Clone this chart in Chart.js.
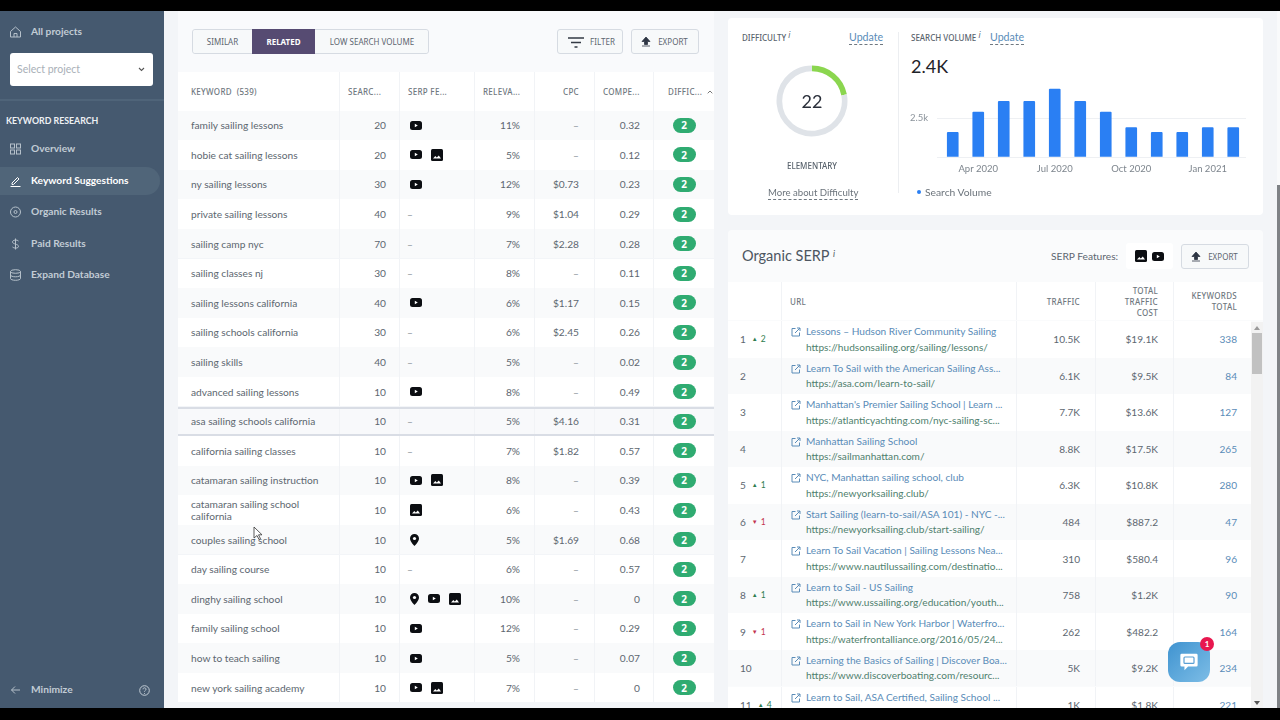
<!DOCTYPE html>
<html>
<head>
<meta charset="utf-8">
<title>Keyword Suggestions</title>
<script src="https://cdn.jsdelivr.net/npm/chart.js@4"></script>
<style>
* { box-sizing: border-box; }
html, body { margin: 0; padding: 0; width: 1280px; height: 720px; overflow: hidden; background: #000; }
body { font-family: Lato, sans-serif; color: #4a5560; }
.abs { position: absolute; white-space: nowrap; }
#page { position: absolute; left: 0; top: 11px; width: 1280px; height: 697px; background: #f3f5f8; overflow: hidden; }
#stage { position: absolute; left: 0; top: -11px; width: 1280px; height: 720px; }

/* sidebar */
#side { position: absolute; left: 0; top: 0; width: 164px; height: 720px; background: #45596f; }
.nav { position: absolute; left: 31px; font-size: 10.2px; font-weight: 700; color: #c2ccd5; transform: translateY(-50%); white-space: nowrap; margin-top: -1px; }
.nav.on { color: #fff; font-weight: 700; }
.ico { position: absolute; left: 9px; width: 13px; height: 13px; transform: translateY(-50%); }
#navOn { position: absolute; left: 0; top: 167px; width: 160px; height: 28px; background: #506579; border-radius: 0 14px 14px 0; }
#select { position: absolute; left: 10px; top: 53px; width: 143px; height: 33px; background: #fff; border-radius: 3px; font-size: 10.5px; color: #a9b0b7; padding: 10px 7px; }
#sideRule { position: absolute; left: 0; top: 99px; width: 164px; height: 2px; background: #4f6479; }

/* left table */
#leftTop { position: absolute; left: 178px; top: 11px; width: 536px; height: 61px; background: #f9fafc; }
#leftHead, #leftBody { position: absolute; left: 178px; width: 536px; }
#leftHead { top: 72px; height: 39px; background: #fff; }
#leftBody { top: 110.5px; }
.row { position: absolute; left: 0; right: 0; font-size: 10.2px; color: #5d6770; background: #fff; }
.row.alt { background: #f9fafb; }
.row.picked { background: #f8f9fb; border-top: 2px solid #d9dde5; border-bottom: 2px solid #d9dde5; }
.cell { position: absolute; top: 0; bottom: 0; display: flex; align-items: center; border-left: 1px solid #f1f3f6; }
.cell.first { border-left: 0; }
.cell.r { justify-content: flex-end; }
.hd { font-family: "Noto Sans", sans-serif; font-size: 8px; font-weight: 500; letter-spacing: .3px; color: #6f7880; }
.pill { width: 23px; height: 15px; border-radius: 8px; background: #2fab71; color: #fff; font-family: "Noto Sans", sans-serif; font-weight: 700; font-size: 10px; display: flex; align-items: center; justify-content: center; }
.feat { display: flex; gap: 9px; margin-left: 10px; align-items: center; }
.dash { color: #8a929a; }

/* tabs and buttons */
.btn { position: absolute; border: 1px solid #d6dbe2; border-radius: 3px; background: #f7f9fa; font-family: "Noto Sans", sans-serif; font-size: 8px; color: #5d6670; display: flex; align-items: center; justify-content: center; }
#tabOn { background: #564b72; color: #fff; font-weight: 700; border-color: #564b72; border-radius: 0; }

/* right cards */
#cardTop { position: absolute; left: 728px; top: 18px; width: 535px; height: 197px; background: #fff; border-radius: 4px; }
#cardSerp { position: absolute; left: 728px; top: 230px; width: 535px; height: 478px; background: #fafbfc; border-radius: 4px 4px 0 0; }
#serpHead { position: absolute; left: 728px; top: 282px; width: 535px; height: 38px; background: #fff; }
#serpBody { position: absolute; left: 728px; top: 321px; width: 523px; height: 387px; overflow: hidden; }
#serpBody .row { font-size: 10.1px; }
.link { color: #5a8cb8; }
.url { color: #4f7f6e; }
.up { color: #2f7d4f; font-size: 8.5px; }
.down { color: #c2334d; font-size: 8.5px; }
.tri { font-size: 6px; margin-right: 3px; position: relative; top: -1px; }
.dashed { border-bottom: 1px dashed #6f7880; padding-bottom: 1px; }
#sb { position: absolute; left: 1251px; top: 322px; width: 12px; height: 386px; background: #f2f2f2; }
#sbThumb { position: absolute; left: 1px; top: 11px; width: 10px; height: 41px; background: #c1c1c1; }
#pageSb { position: absolute; left: 1277px; top: 11px; width: 3px; height: 697px; background: #f9fafb; }
#pageThumb { position: absolute; left: 0; top: 174px; width: 3px; height: 523px; background: #7f8286; }

#chat { position: absolute; left: 1168px; top: 642px; width: 42px; height: 40px; border-radius: 12px; background: linear-gradient(135deg, #3f93d0, #7dbde6); }
#badge { position: absolute; left: 1200px; top: 637px; width: 14px; height: 14px; border-radius: 7px; background: #e8174f; color: #fff; font-size: 8px; font-weight: 700; display: flex; align-items: center; justify-content: center; }
#blackTop, #blackBottom { position: absolute; left: 0; width: 1280px; background: #000; }
#blackTop { top: 0; height: 11px; }
#blackBottom { top: 708px; height: 12px; }
#ring { position: absolute; left: 772px; top: 61px; }
#bars { position: absolute; left: 900px; top: 65px; }
</style>
</head>
<body>
<div id="page"><div id="stage">

  <div id="side">
    <div id="navOn"></div>
    <div id="select">Select project<svg class="abs" style="left:128px;top:14px" width="7" height="5" viewBox="0 0 7 5"><path d="M1 1l2.500 2.500L6 1" fill="none" stroke="#555" stroke-width="1.100"/></svg></div>
    <div id="sideRule"></div>
    <div id="navList"></div>
  </div>

  <div id="leftTop"></div>
  <div class="btn" style="left:192px;top:29px;width:237px;height:25px"></div>
  <div class="btn" style="left:193px;top:30px;width:59px;height:23px;border:0">SIMILAR</div>
  <div class="btn" id="tabOn" style="left:252px;top:29px;width:63px;height:25px">RELATED</div>
  <div class="btn" style="left:316px;top:30px;width:112px;height:23px;border:0">LOW SEARCH VOLUME</div>
  <div class="btn" style="left:557px;top:29px;width:66px;height:25px;padding-left:25px">FILTER
    <svg class="abs" style="left:10px;top:7px" width="16" height="11" viewBox="0 0 16 11"><path d="M0 1h16M3 5.500h10M6.500 10h3" stroke="#333a44" stroke-width="1.400"/></svg></div>
  <div class="btn" style="left:631px;top:29px;width:68px;height:25px;padding-left:16px">EXPORT
    <svg class="abs" style="left:9px;top:7px" width="10" height="10" viewBox="0 0 10 10"><path d="M5 0L9 4.500H6.500V7.500H3.500V4.500H1zM1 9h8" fill="#2e3644" stroke="#2e3644" stroke-width=".8"/></svg></div>

  <div id="leftHead"></div>
  <div id="leftBody"></div>

  <div id="cardTop"></div>
  <div class="abs hd" style="left:742px;top:32px;color:#59636d;letter-spacing:0">DIFFICULTY <i style="font-weight:400;position:relative;top:-3px">i</i></div>
  <div class="abs link dashed" style="left:849px;top:31px;font-size:10.6px">Update</div>
  <div class="abs" style="left:898px;top:32px;width:1px;height:161px;background:#eceef1"></div>
  <div class="abs hd" style="left:911px;top:32px;color:#59636d;letter-spacing:0">SEARCH VOLUME <i style="font-weight:400;position:relative;top:-3px">i</i></div>
  <div class="abs link dashed" style="left:990px;top:31px;font-size:10.6px">Update</div>
  <div class="abs" style="left:911px;top:55px;font-size:18px;color:#1f2329">2.4K</div>
  <canvas id="ring" width="80" height="80"></canvas>
  <div class="abs" style="left:772px;top:61px;width:80px;height:80px;display:flex;align-items:center;justify-content:center;font-size:18px;color:#2a2f3a">22</div>
  <div class="abs hd" style="left:772px;top:160px;width:80px;text-align:center;color:#59636d;letter-spacing:0">ELEMENTARY</div>
  <div class="abs dashed" style="left:768px;top:187px;font-size:9.6px;color:#6c747c">More about Difficulty</div>
  <canvas id="bars" width="356" height="117"></canvas>
  <div class="abs" style="left:917px;top:190px;width:4px;height:4px;border-radius:2px;background:#2a7ff3"></div>
  <div class="abs" style="left:925px;top:186px;font-size:10.3px;color:#6c747c">Search Volume</div>

  <div id="cardSerp"></div>
  <div class="abs" style="left:742px;top:247px;font-size:14.500px;color:#4d5661">Organic SERP <i style="font-size:9px;position:relative;top:-4px">i</i></div>
  <div class="abs" style="left:1051px;top:250px;font-size:10.2px;color:#5d6670">SERP Features:</div>
  <div class="abs" style="left:1126px;top:243px;width:47px;height:26px;background:#fff;border-radius:3px"></div>
  <div class="abs" id="serpIcons" style="left:1135px;top:250px;display:flex;gap:5px;align-items:center"></div>
  <div class="btn" style="left:1181px;top:244px;width:68px;height:25px;padding-left:16px">EXPORT
    <svg class="abs" style="left:9px;top:7px" width="10" height="10" viewBox="0 0 10 10"><path d="M5 0L9 4.500H6.500V7.500H3.500V4.500H1zM1 9h8" fill="#2e3644" stroke="#2e3644" stroke-width=".8"/></svg></div>
  <div id="serpHead"></div>
  <div id="serpBody"></div>
  <div id="sb">
    <svg class="abs" style="left:3px;top:4px" width="6" height="4" viewBox="0 0 6 4"><path d="M0 4L3 0l3 4z" fill="#9a9a9a"/></svg>
    <div id="sbThumb"></div>
    <svg class="abs" style="left:3px;top:379px" width="6" height="4" viewBox="0 0 6 4"><path d="M0 0L3 4l3-4z" fill="#555"/></svg>
  </div>

  <div id="chat">
    <svg class="abs" style="left:11px;top:10px" width="20" height="20" viewBox="0 0 22 22"><path d="M3 2h16a1.500 1.500 0 0 1 1.500 1.500v11a1.500 1.500 0 0 1-1.500 1.500H10l-4 4v-4H3a1.500 1.500 0 0 1-1.500-1.500v-11A1.500 1.500 0 0 1 3 2z" fill="#fff"/><rect x="5.500" y="5.500" width="11" height="7" rx="1" fill="none" stroke="#5a9fd4" stroke-width="1.300"/></svg>
  </div>
  <div id="badge">1</div>

  <svg class="abs" style="left:253px;top:526px" width="10" height="15" viewBox="0 0 10 15"><path d="M1 1v11l3-2.500 2 4 1.500-.8-2-3.900H9z" fill="#fff" stroke="#333" stroke-width=".8"/></svg>

  <div id="pageSb"><div id="pageThumb"></div></div>
</div></div>
<div id="blackTop"></div>
<div id="blackBottom"></div>

<script>
// chart values
const months = ["Mar 2020", "Apr 2020", "May 2020", "Jun 2020", "Jul 2020", "Aug 2020", "Sep 2020", "Oct 2020", "Nov 2020", "Dec 2020", "Jan 2021", "Feb 2021"];
const searchVolume = [1600, 2900, 3600, 3600, 4400, 3600, 2900, 1900, 1600, 1600, 1900, 1900];
const monthTicks = ["Apr 2020", "Jul 2020", "Oct 2020", "Jan 2021"];
const volumeTicks = [0, 2500];
const difficulty = [22, 78];

// left table
const keywords = ["family sailing lessons", "hobie cat sailing lessons", "ny sailing lessons", "private sailing lessons", "sailing camp nyc", "sailing classes nj", "sailing lessons california", "sailing schools california", "sailing skills", "advanced sailing lessons", "asa sailing schools california", "california sailing classes", "catamaran sailing instruction", "catamaran sailing school california", "couples sailing school", "day sailing course", "dinghy sailing school", "family sailing school", "how to teach sailing", "new york sailing academy"];
const searches = [20, 20, 30, 40, 70, 30, 40, 30, 40, 10, 10, 10, 10, 10, 10, 10, 10, 10, 10, 10];
const features = ["v", "vi", "v", "", "", "", "v", "", "", "v", "", "", "vi", "i", "p", "", "pvi", "v", "v", "vi"];
const relevance = [11, 5, 12, 9, 7, 8, 6, 6, 5, 8, 5, 7, 8, 6, 5, 6, 10, 12, 5, 7];
const cpc = ["–", "–", "$0.73", "$1.04", "$2.28", "–", "$1.17", "$2.45", "–", "–", "$4.16", "$1.82", "–", "–", "$1.69", "–", "–", "–", "–", "–"];
const competition = ["0.32", "0.12", "0.23", "0.29", "0.28", "0.11", "0.15", "0.26", "0.02", "0.49", "0.31", "0.57", "0.39", "0.43", "0.68", "0.57", "0", "0.29", "0.07", "0"];
const leftHeaders = ["KEYWORD &nbsp;(539)", "SEARC...", "SERP FE...", "RELEVA...", "CPC", "COMPE...", "DIFFIC..."];

// organic serp table
const ranks = [1, 2, 3, 4, 5, 6, 7, 8, 9, 10, 11];
const rankMoves = [2, 0, 0, 0, 1, -1, 0, 1, -1, 0, 4];
const titles = ["Lessons – Hudson River Community Sailing", "Learn To Sail with the American Sailing Ass...", "Manhattan's Premier Sailing School | Learn ...", "Manhattan Sailing School", "NYC, Manhattan sailing school, club", "Start Sailing (learn-to-sail/ASA 101) - NYC -...", "Learn To Sail Vacation | Sailing Lessons Nea...", "Learn to Sail - US Sailing", "Learn to Sail in New York Harbor | Waterfro...", "Learning the Basics of Sailing | Discover Boa...", "Learn to Sail, ASA Certified, Sailing School ..."];
const urls = ["https://hudsonsailing.org/sailing/lessons/", "https://asa.com/learn-to-sail/", "https://atlanticyachting.com/nyc-sailing-sc...", "https://sailmanhattan.com/", "https://newyorksailing.club/", "https://newyorksailing.club/start-sailing/", "https://www.nautilussailing.com/destinatio...", "https://www.ussailing.org/education/youth...", "https://waterfrontalliance.org/2016/05/24...", "https://www.discoverboating.com/resourc...", ""];
const traffic = ["10.5K", "6.1K", "7.7K", "8.8K", "6.3K", "484", "310", "758", "262", "5K", "1K"];
const trafficCost = ["$19.1K", "$9.5K", "$13.6K", "$17.5K", "$10.8K", "$887.2", "$580.4", "$1.2K", "$482.2", "$9.2K", "$1.8K"];
const keywordsTotal = [338, 84, 127, 265, 280, 47, 96, 90, 164, 234, 221];

const navItems = ["All projects", "Overview", "Keyword Suggestions", "Organic Results", "Paid Results", "Expand Database", "Minimize"];

const leftCols = [0, 161, 221, 296, 356, 416, 475, 536];
const serpCols = [0, 53, 288, 367, 445, 523];
const navY = [32, 149, 181, 212, 244, 275, 690];

const icons = {
    v: '<svg width="12" height="9" viewBox="0 0 12 9"><rect width="12" height="9" rx="2.500" fill="#0c0e12"/><path d="M4.800 2.700L7.800 4.500 4.800 6.300z" fill="#fff"/></svg>',
    i: '<svg width="12" height="12" viewBox="0 0 12 12"><rect width="12" height="12" rx="1.500" fill="#0c0e12"/><path d="M2 9.500L4.300 7l1.500 1.400L7.800 6.500 10 9.500z" fill="#fff"/></svg>',
    p: '<svg width="9" height="12" viewBox="0 0 9 12"><path d="M4.500 0a4.500 4.500 0 0 1 4.500 4.500C9 7.500 4.500 12 4.500 12S0 7.500 0 4.500A4.500 4.500 0 0 1 4.500 0z" fill="#0c0e12"/><circle cx="4.500" cy="4.500" r="1.600" fill="#fff"/></svg>',
};

const navIcons = [
    '<path d="M1.500 6L6.500 1.500 11.500 6V11.500H1.500zM5 11.500V8H8V11.500"/>',
    '<rect x="1.500" y="1.500" width="4" height="4"/><rect x="7.500" y="1.500" width="4" height="4"/><rect x="1.500" y="7.500" width="4" height="4"/><rect x="7.500" y="7.500" width="4" height="4"/>',
    '<path d="M3 8.500L8.500 3l1.500 1.500L4.500 10H3zM1.500 12H11.500"/>',
    '<circle cx="6.500" cy="6.500" r="5"/><circle cx="6.500" cy="6.500" r="1.500"/>',
    '<path d="M9.500 3.500C8 2 3.500 2.300 3.500 4.500S9.500 6.500 9.500 8.800 5 11 3.500 9.500M6.500 1V12"/>',
    '<ellipse cx="6.500" cy="3" rx="5" ry="1.800"/><path d="M1.500 3V10c0 1 2.200 1.800 5 1.800s5-.8 5-1.800V3M1.500 6.500c0 1 2.200 1.800 5 1.800s5-.8 5-1.800"/>',
    '<path d="M11 6.500H2.500M6 3L2.500 6.500 6 10"/>',
];

const side = document.getElementById("navList");
navItems.forEach((n, i) => {
    const on = i === 2 ? " on" : "";
    side.innerHTML += `<svg class="ico" style="top:${navY[i]}px" viewBox="0 0 13 13" fill="none" stroke="${on ? "#fff" : "#b5c0ca"}" stroke-width="1">${navIcons[i]}</svg><div class="nav${on}" style="top:${navY[i]}px">${n}</div>`;
});
side.innerHTML += '<div class="abs" style="left:6px;top:115px;font-size:8.800px;font-weight:700;color:#eef1f4">KEYWORD RESEARCH</div>';
side.innerHTML += '<svg class="abs" style="left:139px;top:685px" width="11" height="11" viewBox="0 0 11 11" fill="none" stroke="#c2ccd5"><circle cx="5.500" cy="5.500" r="4.800"/><path d="M4 4.300c0-2 3-2 3 0 0 1.200-1.500 1.200-1.500 2.300M5.500 8v.8"/></svg>';

const cell = (cols, j, cls, html, pad) =>
    `<div class="cell ${j === 0 ? "first" : ""} ${cls}" style="left:${cols[j]}px;width:${cols[j + 1] - cols[j]}px;${pad || ""}">${html}</div>`;

// left table header
const leftHeadPad = ["padding-left:13px", "padding-left:8px", "padding-left:8px", "padding-left:8px", "padding-right:15px", "padding-left:8px", "padding-left:14px"];
let head = "";
leftHeaders.forEach((h, j) => {
    const right = j === 4;
    const caret = j === 6 ? '<svg style="margin-left:5px" width="6" height="4" viewBox="0 0 6 4"><path d="M.7 3.300L3 1l2.300 2.300" fill="none" stroke="#555" stroke-width=".8"/></svg>' : "";
    head += cell(leftCols, j, (right ? "r " : "") + "hd", h + caret, leftHeadPad[j]);
});
document.getElementById("leftHead").innerHTML = head;

// left table rows
const rowH = 29.6;
let left = "";
keywords.forEach((k, i) => {
    const cls = i === 10 ? "picked" : i % 2 === 0 ? "alt" : "";
    const feats = features[i] ? `<div class="feat">${features[i].split("").map(f => icons[f]).join("")}</div>` : '<span class="dash" style="margin-left:7px">–</span>';
    const wrap = k.length > 30 ? "white-space:normal;line-height:12.500px;padding-right:24px;" : "";
    left += `<div class="row ${cls}" style="top:${(i * rowH).toFixed(1)}px;height:${rowH}px">` +
        cell(leftCols, 0, "", k, `padding-left:13px;${wrap}`) +
        cell(leftCols, 1, "r", searches[i], "padding-right:13px") +
        cell(leftCols, 2, "", feats) +
        cell(leftCols, 3, "r", relevance[i] + "%", "padding-right:14px") +
        cell(leftCols, 4, "r", cpc[i] === "–" ? `<span class="dash">–</span>` : cpc[i], "padding-right:15px") +
        cell(leftCols, 5, "r", competition[i], "padding-right:13px") +
        cell(leftCols, 6, "", '<div class="pill">2</div>', "justify-content:center") +
        "</div>";
});
document.getElementById("leftBody").innerHTML = left;

// serp header
const serpHeaders = ["", "URL", "TRAFFIC", "TOTAL<br>TRAFFIC<br>COST", "KEYWORDS<br>TOTAL"];
let serpHead = "";
serpHeaders.forEach((h, j) => {
    const right = j > 1;
    const pad = j === 1 ? "padding-left:8px" : j === 4 ? "padding-right:14px" : "padding-right:15px";
    serpHead += cell(serpCols, j, (right ? "r " : "") + "hd", `<div style="text-align:${right ? "right" : "left"};line-height:11px;font-size:8px">${h}</div>`, pad);
});
document.getElementById("serpHead").innerHTML = serpHead;

// serp rows
const serpH = 36.55;
const extIcon = '<svg class="abs" style="left:9px;top:6px" width="10" height="10" viewBox="0 0 10 10" fill="none" stroke="#5a8cb8" stroke-width="1"><path d="M8.500 5.500V9H1V1.500H4.500M4 6L9 1M6 1H9V4"/></svg>';
let serp = "";
ranks.forEach((r, i) => {
    const m = rankMoves[i];
    const move = m > 0 ? `<span class="up" style="margin-left:6px"><span class="tri">▲</span>${m}</span>` : m < 0 ? `<span class="down" style="margin-left:6px"><span class="tri">▼</span>${-m}</span>` : "";
    serp += `<div class="row ${i % 2 === 1 ? "alt" : ""}" style="top:${(i * serpH).toFixed(1)}px;height:${serpH}px">` +
        cell(serpCols, 0, "", r + move, "padding-left:12px") +
        cell(serpCols, 1, "", extIcon + `<div class="abs link" style="left:24px;top:4px">${titles[i]}</div><div class="abs url" style="left:24px;top:19.500px">${urls[i]}</div>`) +
        cell(serpCols, 2, "r", traffic[i], "padding-right:15px") +
        cell(serpCols, 3, "r", trafficCost[i], "padding-right:15px") +
        cell(serpCols, 4, "r", `<span class="link">${keywordsTotal[i]}</span>`, "padding-right:14px") +
        "</div>";
});
document.getElementById("serpBody").innerHTML = serp;
document.getElementById("serpIcons").innerHTML = icons.i + icons.v;

// difficulty ring
new Chart(document.getElementById("ring"), {
    type: "doughnut",
    data: {
        labels: ["Difficulty", "Rest"],
        datasets: [{ data: difficulty, backgroundColor: ["#8bd64f", "#dfe3e8"], borderWidth: 0 }],
    },
    options: {
        responsive: false,
        animation: false,
        cutout: "84%",
        layout: { padding: 4.5 },
        plugins: { legend: { display: false }, tooltip: { enabled: false } },
    },
});

// search volume bars
new Chart(document.getElementById("bars"), {
    type: "bar",
    data: {
        labels: months,
        datasets: [{ label: "Search Volume", data: searchVolume, backgroundColor: "#2a7ff3", barThickness: 11, borderRadius: 1 }],
    },
    options: {
        responsive: false,
        animation: false,
        layout: { padding: { left: 0, right: 10, top: 0, bottom: 0 } },
        plugins: { legend: { display: false }, tooltip: { enabled: false } },
        scales: {
            x: {
                afterFit(axis) { axis.height = 25; },
                grid: { display: false, drawTicks: false },
                border: { display: false },
                ticks: {
                    autoSkip: false,
                    maxRotation: 0,
                    font: { family: "Lato", size: 9.5 },
                    color: "#7d858d",
                    padding: 6,
                    callback(v) {
                        const m = this.getLabelForValue(v);
                        return monthTicks.includes(m) ? m : "";
                    },
                },
            },
            y: {
                min: 0,
                max: 5000,
                afterBuildTicks(axis) { axis.ticks = volumeTicks.map(value => ({ value })); },
                afterFit(axis) { axis.width = 40; },
                grid: { color: "#eef0f3", tickLength: 3, tickColor: "#eef0f3" },
                border: { display: false },
                ticks: {
                    font: { family: "Lato", size: 9.5 },
                    color: "#8b939b",
                    padding: 9,
                    callback: v => (v === 2500 ? "2.5k" : ""),
                },
            },
        },
    },
});
</script>
</body>
</html>
